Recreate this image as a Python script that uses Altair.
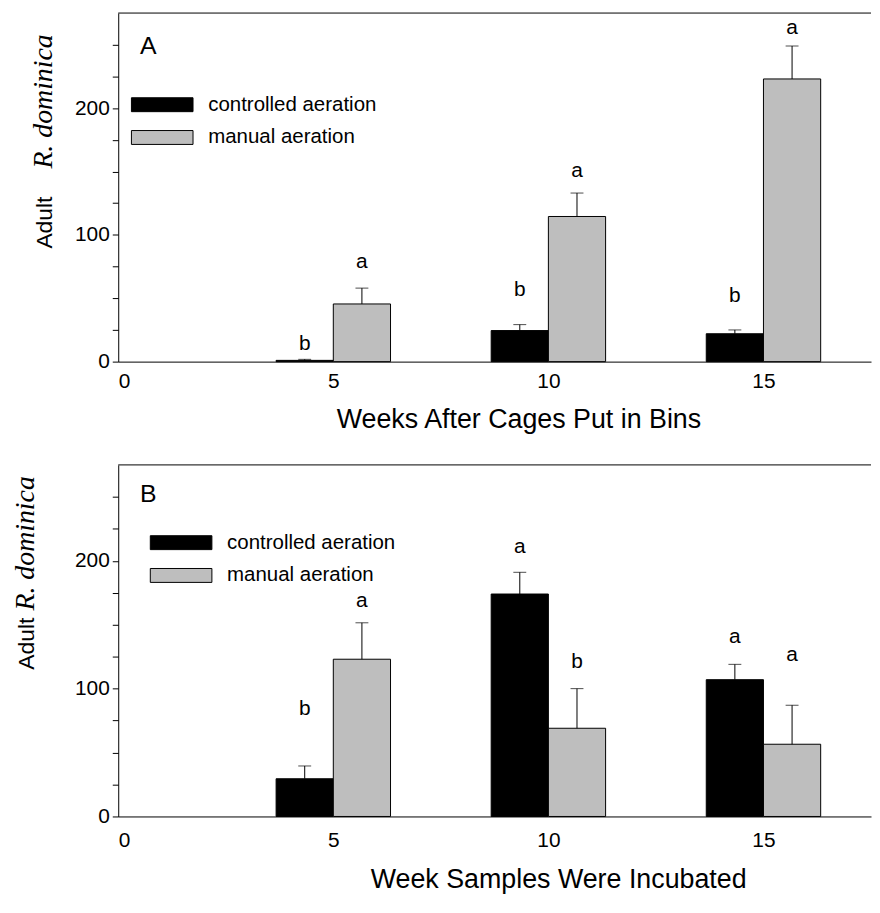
import altair as alt
import pandas as pd

weeks = [5, 10, 15]
series = ["controlled aeration", "manual aeration"]
colors = ["#000000", "#bebebe"]

# Panel A values (mean, SE, significance letter, letter height)
a_ctrl_mean = [1.0, 24.5, 22.0]
a_ctrl_se = [0.8, 4.7, 3.0]
a_man_mean = [45.5, 114.5, 223.0]
a_man_se = [12.5, 18.5, 26.0]
a_ctrl_letter = ["b", "b", "b"]
a_man_letter = ["a", "a", "a"]
a_ctrl_letter_y = [14.0, 56.5, 51.5]
a_man_letter_y = [78.5, 150.5, 263.0]

# Panel B values
b_ctrl_mean = [29.5, 174.0, 107.0]
b_ctrl_se = [10.0, 17.0, 12.0]
b_man_mean = [123.0, 69.0, 56.5]
b_man_se = [28.5, 31.0, 30.5]
b_ctrl_letter = ["b", "a", "a"]
b_man_letter = ["a", "b", "a"]
b_ctrl_letter_y = [84.0, 211.0, 140.5]
b_man_letter_y = [168.5, 121.0, 126.5]

y_ticks = list(range(0, 251, 25))
x_ticks = [0, 5, 10, 15]

BAR_W = 1.33
W = 758
FONT = "Liberation Sans"


def make_df(cm, cs, cl, cly, mm, ms, ml, mly):
    rows = []
    for i, wk in enumerate(weeks):
        rows.append(dict(series=series[0], mean=cm[i], se=cs[i], letter=cl[i],
                         ly=cly[i], x0=wk - BAR_W, x1=wk, xc=wk - BAR_W / 2))
        rows.append(dict(series=series[1], mean=mm[i], se=ms[i], letter=ml[i],
                         ly=mly[i], x0=wk, x1=wk + BAR_W, xc=wk + BAR_W / 2))
    df = pd.DataFrame(rows)
    df["upper"] = df["mean"] + df["se"]
    return df


def panel(df, letter, xtitle, H, lab_pad, title_x, title_y, leg_x, leg_y,
          ylab_x, adult_y, rdom_y, letter_xy):
    xs = alt.Scale(domain=[0, 17.5], nice=False, zero=False)
    ys = alt.Scale(domain=[0, 275], nice=False)
    xaxis = alt.Axis(values=x_ticks, tickSize=0, labelFontSize=21, labelFont=FONT,
                     labelPadding=lab_pad, domainColor="black", labelColor="black",
                     title=xtitle, titleFontSize=27, titleFont=FONT,
                     titleFontWeight="normal", titleColor="black",
                     titleX=title_x, titleY=title_y, titleBaseline="middle",
                     titleAlign="center", grid=False)
    yaxis = alt.Axis(values=y_ticks, tickSize=6, tickColor="black",
                     domainColor="black", labelFontSize=21, labelFont=FONT,
                     labelColor="black", labelPadding=3, labelOverlap=False,
                     labelExpr="datum.value % 100 === 0 ? datum.label : ''",
                     title=None, grid=False)
    base = alt.Chart(df)
    one = alt.Chart(pd.DataFrame({"k": [letter]}))
    bars = base.mark_rect(stroke="black", strokeWidth=1).encode(
        x=alt.X("x0:Q", scale=xs, axis=xaxis),
        x2="x1:Q",
        y=alt.Y("mean:Q", scale=ys, axis=yaxis),
        y2=alt.datum(0),
        fill=alt.Fill("series:N", scale=alt.Scale(domain=series, range=colors),
                      legend=alt.Legend(orient="none", legendX=leg_x, legendY=leg_y,
                                        title=None, padding=0,
                                        symbolType="M-4.43,-1H4.43V1H-4.43Z",
                                        symbolSize=196, symbolStrokeColor="black",
                                        symbolStrokeWidth=1, symbolOffset=0,
                                        labelOffset=36, rowPadding=12, labelLimit=0,
                                        labelFontSize=20.6, labelFont=FONT,
                                        labelColor="black", symbolOpacity=1)),
    )
    err = base.mark_rule(color="black", strokeWidth=1).encode(
        x=alt.X("xc:Q", scale=xs, axis=xaxis),
        y=alt.Y("mean:Q", scale=ys, axis=yaxis),
        y2="upper:Q",
    )
    cap = base.mark_tick(orient="horizontal", size=13, thickness=1, color="black").encode(
        x=alt.X("xc:Q", scale=xs, axis=xaxis),
        y=alt.Y("upper:Q", scale=ys, axis=yaxis),
    )
    lett = base.mark_text(fontSize=21, font=FONT, baseline="middle",
                          color="black").encode(
        x=alt.X("xc:Q", scale=xs, axis=xaxis),
        y=alt.Y("ly:Q", scale=ys, axis=yaxis),
        text="letter:N",
    )
    top = one.mark_rule(color="black", strokeWidth=1).encode(
        x=alt.value(0), x2=alt.value(W), y=alt.value(0))
    plet = one.mark_text(fontSize=25, font=FONT, align="left",
                         baseline="middle", color="black").encode(
        x=alt.value(letter_xy[0]), y=alt.value(letter_xy[1]), text=alt.value(letter))
    adult = one.mark_text(fontSize=23, font=FONT, angle=270, align="center",
                          baseline="alphabetic", color="black").encode(
        x=alt.value(ylab_x), y=alt.value(adult_y), text=alt.value("Adult"))
    rdom = one.mark_text(fontSize=28, font="Liberation Serif", fontStyle="italic",
                         angle=270, align="center", baseline="alphabetic",
                         color="black").encode(
        x=alt.value(ylab_x), y=alt.value(rdom_y), text=alt.value("R. dominica"))
    return alt.layer(bars, err, cap, lett, top, plet, adult, rdom).properties(
        width=W, height=H)


dfa = make_df(a_ctrl_mean, a_ctrl_se, a_ctrl_letter, a_ctrl_letter_y,
              a_man_mean, a_man_se, a_man_letter, a_man_letter_y)
dfb = make_df(b_ctrl_mean, b_ctrl_se, b_ctrl_letter, b_ctrl_letter_y,
              b_man_mean, b_man_se, b_man_letter, b_man_letter_y)

pa = panel(dfa, "A", "Weeks After Cages Put in Bins", 351, 9, 403, 58, 34, 82,
           -67, 211, 89, (22, 33))
pb = panel(dfb, "B", "Week Samples Were Incubated", 354, 13, 443, 64, 53, 68,
           -85, 180, 79, (22, 29))

chart = alt.vconcat(pa, pb, spacing=32).resolve_scale(fill="independent").resolve_legend(
    fill="independent").properties(
    padding={"left": 4, "top": 1, "right": 0, "bottom": 0}
).configure(font=FONT).configure_view(stroke=None)

chart.save("out.html", embed_options={"renderer": "svg", "actions": False})
